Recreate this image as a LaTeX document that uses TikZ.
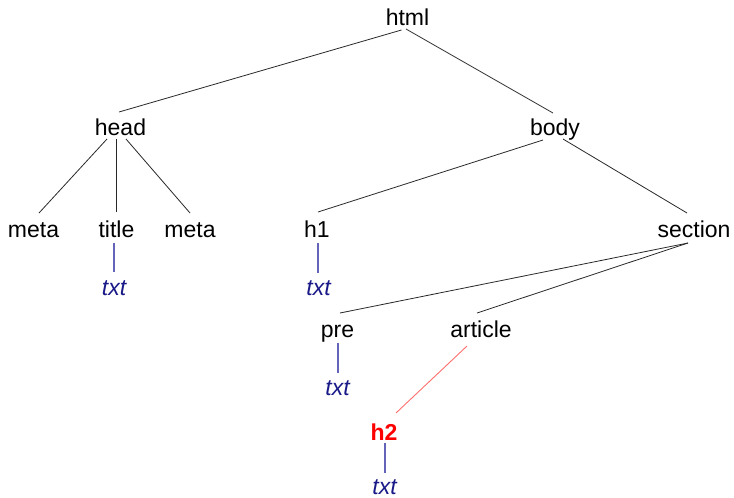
\documentclass[tikz,border=0pt]{standalone}
\usepackage{fontspec}
\setmainfont{Liberation Sans}
\usetikzlibrary{calc}
\definecolor{txtcol}{RGB}{25,25,135}
\definecolor{bluelink}{RGB}{100,100,185}
\definecolor{redlink}{RGB}{255,110,110}
\definecolor{edgecol}{RGB}{40,40,40}
\begin{document}
\begin{tikzpicture}[x=1pt,y=-1pt,
  tag/.style={anchor=base,inner sep=0pt,outer sep=0pt,text height=23pt,text depth=5pt,
    font=\fontsize{23}{27}\selectfont},
  txtnode/.style={tag,font=\fontsize{23}{27}\selectfont\itshape,text=txtcol},
  hnode/.style={tag,font=\fontsize{23}{27}\selectfont\bfseries,text=red},
  link/.style={draw=edgecol,line width=0.8pt},
  bluel/.style={draw=bluelink,line width=1.3pt},
  redl/.style={draw=redlink,line width=0.9pt}]
\useasboundingbox (0,0) rectangle (734,498);
\node[tag] (html) at (407.5,25) {html};
\node[tag] (head) at (120.5,135) {head};
\node[tag] (body) at (555,135) {body};
\node[tag] (meta1) at (33.5,237) {meta};
\node[tag] (title) at (116.5,237) {title};
\node[tag] (meta2) at (190,237) {meta};
\node[tag] (h1) at (317,237) {h1};
\node[tag] (section) at (694,237) {section};
\node[txtnode] (t1) at (114,295) {txt};
\node[txtnode] (t2) at (318.5,295) {txt};
\node[tag] (pre) at (337.5,337) {pre};
\node[tag] (article) at (481,337) {article};
\node[txtnode] (t3) at (337.5,395) {txt};
\node[hnode] (h2) at (384,440) {h2};
\node[txtnode] (t4) at (384.5,494) {txt};
% edges
\draw[link] ($(html.south)+(-6,0)$) -- ($(head.north)+(-1.5,0)$);
\draw[link] ($(html.south)+(-1.5,-1)$) -- ($(body.north)+(-2,1)$);
\draw[link] ($(head.south)+(-13.5,-1)$) -- ($(meta1.north)+(5.5,-1)$);
\draw[link] ($(head.south)+(-4.5,-1)$) -- ($(title.north)+(-0.5,-2)$);
\draw[link] ($(head.south)+(5.5,-1)$) -- ($(meta2.north)+(0,-1)$);
\draw[link] ($(body.south)+(-12,0)$) -- ($(h1.north)+(1,-2)$);
\draw[link] ($(body.south)+(8,-1)$) -- ($(section.north)+(-7,-1)$);
\draw[link] ($(section.south)+(-6,1)$) -- ($(pre.north)+(2.5,-1)$);
\draw[link] ($(section.south)+(-6,1)$) -- ($(article.north)+(-4,-1)$);
\draw[bluel] ($(title.south)+(-2.5,1)$) -- (t1.north);
\draw[bluel] ($(h1.south)+(1,1)$) -- ($(t2.north)+(-0.5,1)$);
\draw[bluel] ($(pre.south)+(0.5,1)$) -- ($(t3.north)+(0.5,1)$);
\draw[bluel] ($(h2.south)+(1,-2)$) -- ($(t4.north)+(0.5,2)$);
\draw[redl] ($(article.south)+(-14,4)$) -- ($(h2.north)+(12,-4)$);
\end{tikzpicture}
\end{document}
